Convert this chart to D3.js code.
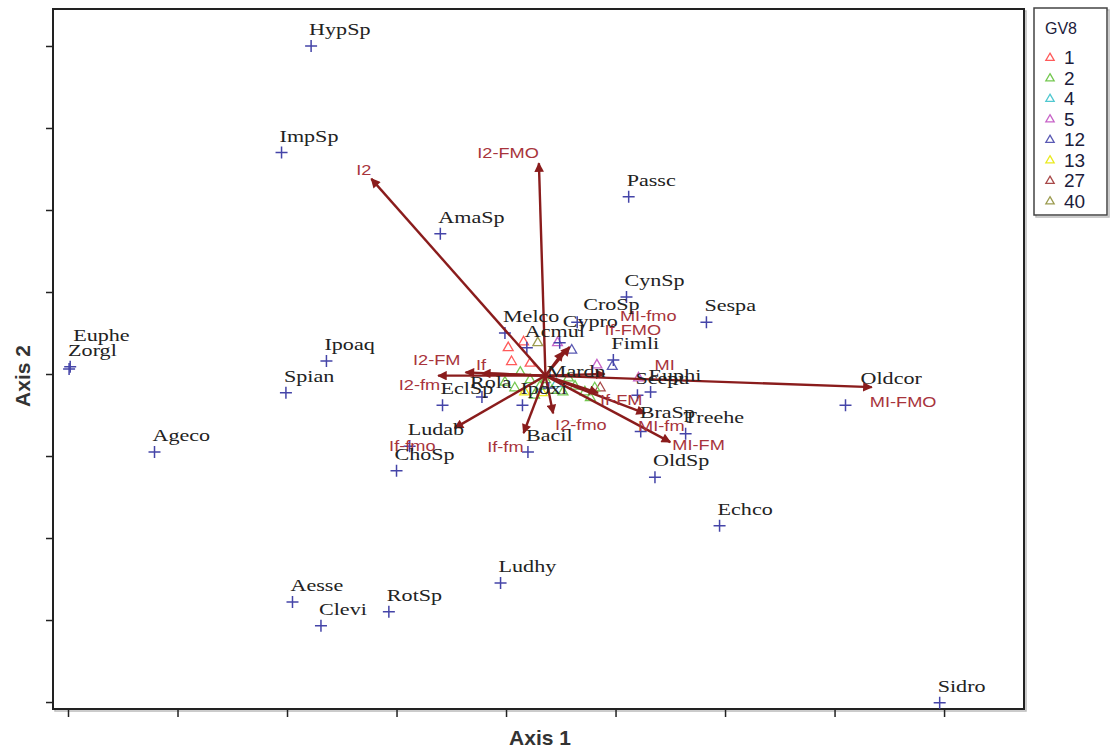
<!DOCTYPE html>
<html lang="en">
<head>
    <meta charset="UTF-8">
    <title></title>
    <style>
        body { margin: 0; background: #fff; }
        .sp { font-family: "Liberation Serif", serif; font-size: 17px; fill: #222; }
        .vl { font-family: "Liberation Sans", Arial, sans-serif; font-size: 14px; fill: #a8343c; }
        .ax { font-family: "Liberation Sans", Arial, sans-serif; font-size: 21px; font-weight: bold; fill: #333; }
        .lg { font-family: "Liberation Sans", Arial, sans-serif; fill: #1c1c3c; }
    </style>
</head>
<body>
<svg id="chart"></svg>
<script src="https://cdnjs.cloudflare.com/ajax/libs/d3/7.8.5/d3.min.js"></script>
<script>
    // species scores (axis 1, axis 2)
    var species = ["HypSp", "ImpSp", "AmaSp", "Passc", "CynSp", "Sespa", "Euphe", "Zorgl", "Ipoaq", "Spian",
        "Ageco", "ChoSp", "EclSp", "Ludab", "Bacil", "OldSp", "Echco", "Ludhy", "Aesse", "Clevi",
        "RotSp", "Sidro", "Oldcor", "Melco", "Acmul", "CroSp", "Cypro", "Fimli", "Mardn", "Rola",
        "Ipoxi", "Euphi", "Scepu", "BraSp", "Treehe"];
    var spX = [-1.78, -2.05, -0.60, 1.12, 1.10, 1.83, -3.98, -3.99, -1.64, -2.01,
        -3.21, -1.00, -0.58, -0.88, 0.20, 1.36, 1.95, -0.05, -1.95, -1.69,
        -1.07, 3.96, 3.10, -0.01, 0.19, 0.65, 0.49, 0.98, 0.39, -0.22,
        0.15, 1.32, 1.20, 1.23, 1.64];
    var spY = [4.00, 2.70, 1.71, 2.16, 0.94, 0.63, 0.09, 0.06, 0.16, -0.23,
        -0.95, -1.18, -0.38, -0.88, -0.95, -1.26, -1.85, -2.55, -2.78, -3.07,
        -2.90, -4.01, -0.38, 0.50, 0.32, 0.63, 0.38, 0.17, -0.17, -0.28,
        -0.38, -0.22, -0.26, -0.70, -0.73];

    // environmental vectors
    var vecOrigin = [0.36, -0.02];
    var vectors = ["I2", "I2-FMO", "MI-FMO", "MI-FM", "MI-fm", "I2-fmo", "If-fm", "If-fmo",
        "I2-fm", "I2-FM", "If", "If-FMO", "MI-fmo", "MI", "If-FM"];
    var vecX = [-1.23, 0.30, 3.34, 1.50, 1.27, 0.43, 0.16, -0.47, -0.62, -0.37, -0.22, 0.58, 0.52, 0.90, 0.84];
    var vecY = [2.38, 2.57, -0.16, -0.83, -0.48, -0.48, -0.72, -0.66, -0.02, 0.02, 0.01, 0.33, 0.27, 0.00, -0.23];

    // sites, grouped by GV8
    var groups = ["1", "2", "4", "5", "12", "13", "27", "40"];
    var groupColors = ["#ff5a5a", "#74c850", "#50c8d0", "#c864c8", "#5a5ab4", "#eaea20", "#a84848", "#9c9c50"];
    var siteGroup = ["1", "1", "1", "1", "40", "5", "5", "5", "12", "12", "27", "13", "13", "4",
        "2", "2", "2", "2", "2", "2", "2", "2", "2", "2", "2", "2", "2", "2"];
    var siteX = [0.02, 0.16, 0.05, 0.22, 0.29, 0.47, 0.83, 1.21, 0.60, 0.97, 0.86, 0.17, 0.33, 0.46,
        0.13, 0.22, 0.31, 0.42, 0.52, 0.63, 0.72, 0.81, 0.08, 0.26, 0.57, 0.36, 0.77, -0.01];
    var siteY = [0.32, 0.39, 0.15, 0.13, 0.38, 0.38, 0.11, -0.05, 0.29, 0.09, -0.17, -0.22, -0.23, -0.12,
        0.02, -0.07, -0.15, -0.20, -0.22, -0.15, -0.22, -0.17, -0.17, -0.26, -0.05, -0.07, -0.29, -0.10];

    var xTicks = [-4, -3, -2, -1, 0, 1, 2, 3, 4];
    var yTicks = [-4, -3, -2, -1, 0, 1, 2, 3, 4];

    // label nudges (px) for crowded names
    var spNudge = {Euphe: [3, -26], Zorgl: [-1, -13], Oldcor: [15, -21], CroSp: [6, -12],
        Cypro: [3, -16], Rola: [-12, -9], BraSp: [-1, -13]};
    var vecLabel = {
        "I2": [0, -4, "end"], "I2-FMO": [0, -5, "end"], "MI-FMO": [-2, 20, "start"],
        "MI-FM": [2, 8, "start"], "MI-fm": [-7, 18, "start"], "I2-fmo": [2, 17, "start"],
        "If-fm": [0, 19, "end"], "If-fmo": [-19, 23, "end"], "I2-fm": [2, 14, "end"],
        "I2-FM": [-5, -7, "end"], "If": [-6, -3, "start"], "If-FMO": [35, -12, "start"],
        "MI-fmo": [57, -31, "start"], "MI": [50, -4, "start"], "If-FM": [2, 12, "start"]
    };

    var W = 1111, H = 751;
    var pL = 53, pR = 1024, pT = 9, pB = 709;

    var svg = d3.select("#chart").attr("width", W).attr("height", H);

    var x = d3.scaleLinear().domain([-4.137, 4.73]).range([pL, pR]);
    var y = d3.scaleLinear().domain([-4.085, 4.451]).range([pB, pT]);

    svg.append("defs").append("marker")
        .attr("id", "head")
        .attr("viewBox", "0 0 10 10")
        .attr("refX", 9).attr("refY", 5)
        .attr("markerWidth", 5).attr("markerHeight", 4)
        .attr("markerUnits", "strokeWidth")
        .attr("orient", "auto")
        .append("path").attr("d", "M0,0L10,5L0,10Z").attr("fill", "#8a1c1c");

    // frame with a faint shadow
    svg.append("rect")
        .attr("x", pL + 2).attr("y", pT + 2)
        .attr("width", pR - pL).attr("height", pB - pT)
        .attr("fill", "none").attr("stroke", "#bbb").attr("stroke-width", 1.5);
    svg.append("rect")
        .attr("x", pL).attr("y", pT)
        .attr("width", pR - pL).attr("height", pB - pT)
        .attr("fill", "#fff").attr("stroke", "#222").attr("stroke-width", 2);

    var xAxis = d3.axisBottom(x).tickValues(xTicks).tickSize(8).tickFormat("");
    var yAxis = d3.axisLeft(y).tickValues(yTicks).tickSize(7).tickFormat("");
    svg.append("g").attr("transform", "translate(0," + pB + ")").call(xAxis)
        .call(function(g) { g.select(".domain").remove(); })
        .selectAll("line").attr("stroke", "#222").attr("stroke-width", 1.5);
    svg.append("g").attr("transform", "translate(" + pL + ",0)").call(yAxis)
        .call(function(g) { g.select(".domain").remove(); })
        .selectAll("line").attr("stroke", "#222").attr("stroke-width", 1.5);

    svg.append("text").attr("class", "ax")
        .attr("x", 540).attr("y", 745).attr("text-anchor", "middle")
        .text("Axis 1");
    svg.append("text").attr("class", "ax")
        .attr("transform", "translate(30,376) rotate(-90)").attr("text-anchor", "middle")
        .text("Axis 2");

    var plot = svg.append("g");

    // site triangles
    var tri = d3.symbol().type(d3.symbolTriangle).size(42);
    plot.selectAll("path.site")
        .data(siteX.map(function(d, i) { return {x: d, y: siteY[i], g: siteGroup[i]}; }))
        .enter().append("path")
        .attr("class", "site")
        .attr("d", tri)
        .attr("transform", function(d) { return "translate(" + x(d.x) + "," + y(d.y) + ")"; })
        .attr("fill", "none")
        .attr("stroke", function(d) { return groupColors[groups.indexOf(d.g)]; })
        .attr("stroke-width", 1.3);

    // species crosses
    var sp = species.map(function(d, i) { return {name: d, x: spX[i], y: spY[i]}; });
    plot.selectAll("path.cross")
        .data(sp)
        .enter().append("path")
        .attr("class", "cross")
        .attr("d", "M-6,0H6M0,-6V6")
        .attr("transform", function(d) { return "translate(" + x(d.x) + "," + y(d.y) + ")"; })
        .attr("stroke", "#4444a8").attr("stroke-width", 1.5);

    // vectors
    var vec = vectors.map(function(d, i) { return {name: d, x: vecX[i], y: vecY[i]}; });
    plot.selectAll("line.vec")
        .data(vec)
        .enter().append("line")
        .attr("class", "vec")
        .attr("x1", x(vecOrigin[0])).attr("y1", y(vecOrigin[1]))
        .attr("x2", function(d) { return x(d.x); })
        .attr("y2", function(d) { return y(d.y); })
        .attr("stroke", "#8a1c1c").attr("stroke-width", 2.4)
        .attr("marker-end", "url(#head)");

    plot.selectAll("text.vl")
        .data(vec)
        .enter().append("text")
        .attr("class", "vl")
        .attr("text-anchor", function(d) { return vecLabel[d.name][2]; })
        .attr("transform", function(d) {
            var o = vecLabel[d.name];
            return "translate(" + (x(d.x) + o[0]) + "," + (y(d.y) + o[1]) + ") scale(1.3,1)";
        })
        .text(function(d) { return d.name; });

    plot.selectAll("text.sp")
        .data(sp)
        .enter().append("text")
        .attr("class", "sp")
        .attr("transform", function(d) {
            var o = spNudge[d.name] || [-2, -11];
            return "translate(" + (x(d.x) + o[0]) + "," + (y(d.y) + o[1]) + ") scale(1.3,1)";
        })
        .text(function(d) { return d.name; });

    // legend
    var lg = svg.append("g").attr("transform", "translate(1034,8)");
    lg.append("rect").attr("x", 2).attr("y", 2).attr("width", 73).attr("height", 207)
        .attr("fill", "none").attr("stroke", "#bbb").attr("stroke-width", 1.5);
    lg.append("rect").attr("width", 73).attr("height", 207)
        .attr("fill", "#fff").attr("stroke", "#444").attr("stroke-width", 1.5);
    lg.append("text").attr("class", "lg").attr("x", 11).attr("y", 26)
        .style("font-size", "16px").text("GV8");
    var item = lg.selectAll("g.item")
        .data(groups)
        .enter().append("g")
        .attr("class", "item")
        .attr("transform", function(d, i) { return "translate(0," + (49 + i * 20.5) + ")"; });
    item.append("path")
        .attr("d", d3.symbol().type(d3.symbolTriangle).size(30))
        .attr("transform", "translate(16,1)")
        .attr("fill", "none")
        .attr("stroke", function(d, i) { return groupColors[i]; })
        .attr("stroke-width", 1.3);
    item.append("text").attr("class", "lg")
        .attr("x", 30).attr("y", 7)
        .style("font-size", "19px")
        .text(function(d) { return d; });
</script>
</body>
</html>
